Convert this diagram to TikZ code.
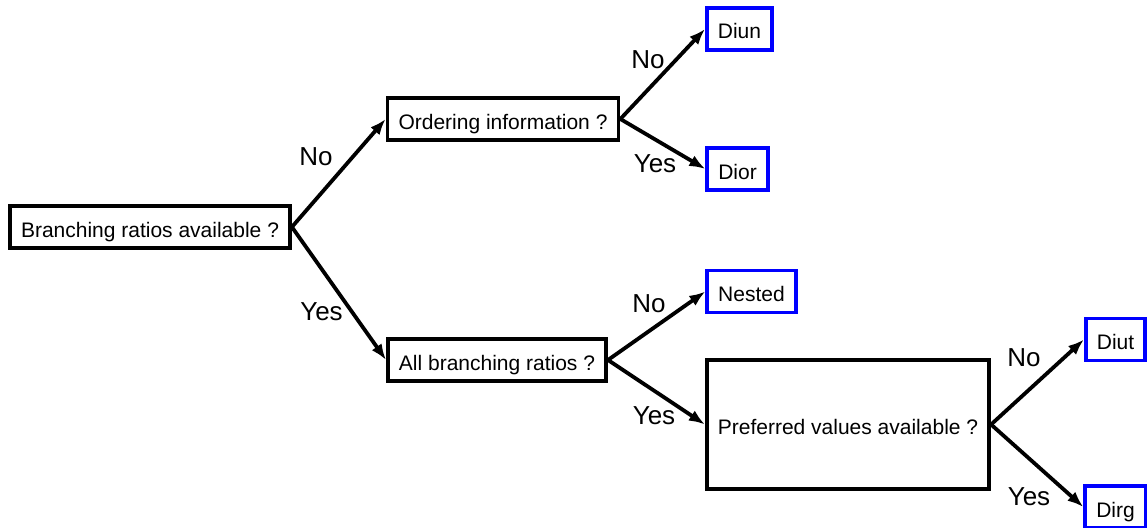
\documentclass[tikz,border=0pt]{standalone}
\usepackage{fontspec}
\setmainfont{Liberation Sans}
\usetikzlibrary{arrows.meta}

\begin{document}
\begin{tikzpicture}[x=1pt,y=-1pt]
    \tikzstyle{question}=[draw=black,line width=3.8pt,fill=white,inner xsep=11pt,inner ysep=0pt,minimum height=42pt,text height=20pt,text depth=0pt,font=\fontsize{21}{25}\selectfont]
    \tikzstyle{answer}=[question,draw=blue]
    \tikzstyle{choice}=[inner sep=0pt,font=\fontsize{26}{30}\selectfont]
    \tikzstyle{branch}=[line width=3.8pt,-{Latex[length=16pt,width=12pt]}]
    \useasboundingbox (0,0) rectangle (1147,527);

    \node (br)[question] at (150,227) {Branching ratios available ?};
    \node (order)[question] at (503,119) {Ordering information ?};
    \node (allbr)[question] at (497,360) {All branching ratios ?};
    \node (pref)[question,minimum height=129pt] at (848,424.5) {Preferred values available ?};

    \node (diun)[answer] at (739.5,29) {Diun};
    \node (dior)[answer] at (737.5,169) {Dior};
    \node (nested)[answer] at (751.5,291.5) {Nested};
    \node (diut)[answer] at (1115.5,339.5) {Diut};
    \node (dirg)[answer] at (1115.5,507) {Dirg};

    \draw[branch] (br.east) -- (order.west);
    \draw[branch] (br.east) -- (allbr.west);
    \draw[branch] (order.east) -- (diun.west);
    \draw[branch] (order.east) -- (dior.west);
    \draw[branch] (allbr.east) -- (nested.west);
    \draw[branch] (allbr.east) -- (pref.west);
    \draw[branch] (pref.east) -- (diut.west);
    \draw[branch] (pref.east) -- (dirg.west);

    \node (brno)[choice] at (316,157) {No};
    \node (bryes)[choice] at (321.5,312) {Yes};
    \node (orderno)[choice] at (648,60) {No};
    \node (orderyes)[choice] at (655,164) {Yes};
    \node (allbrno)[choice] at (649,304) {No};
    \node (allbryes)[choice] at (654,416) {Yes};
    \node (prefno)[choice] at (1024,358) {No};
    \node (prefyes)[choice] at (1029,497) {Yes};
\end{tikzpicture}
\end{document}
